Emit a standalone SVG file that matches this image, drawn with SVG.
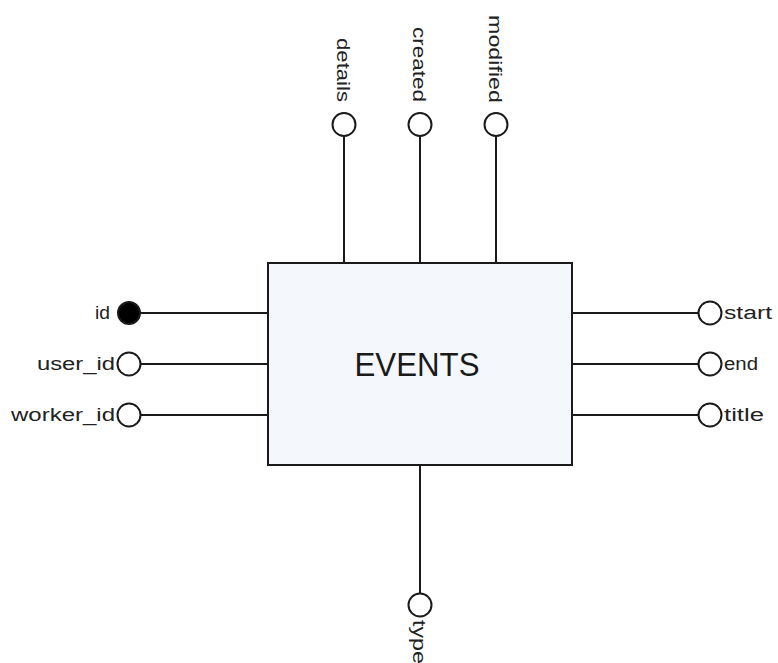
<svg xmlns="http://www.w3.org/2000/svg" width="778" height="663" viewBox="0 0 778 663">
<style>
  .ln { stroke:#1a1a1a; stroke-width:2; fill:none; }
  .oc { stroke:#1a1a1a; stroke-width:2; fill:#ffffff; }
  .fc { stroke:#1a1a1a; stroke-width:2; fill:#000000; }
  .lb { font-family:"Liberation Sans", Arial, sans-serif; font-size:18px; fill:#222222; }
  .tt { font-family:"Liberation Sans", Arial, sans-serif; font-size:34px; fill:#1a1a1a; }
</style>
<rect width="778" height="663" fill="#ffffff"/>
<g id="connectors">
  <line class="ln" x1="344" y1="136" x2="344" y2="263"/>
  <line class="ln" x1="420" y1="136" x2="420" y2="263"/>
  <line class="ln" x1="496" y1="136" x2="496" y2="263"/>
  <line class="ln" x1="141" y1="313" x2="268" y2="313"/>
  <line class="ln" x1="141" y1="364" x2="268" y2="364"/>
  <line class="ln" x1="141" y1="415" x2="268" y2="415"/>
  <line class="ln" x1="572" y1="313" x2="698" y2="313"/>
  <line class="ln" x1="572" y1="364" x2="698" y2="364"/>
  <line class="ln" x1="572" y1="415" x2="698" y2="415"/>
  <line class="ln" x1="420" y1="465" x2="420" y2="593"/>
</g>
<g id="events">
  <rect x="268" y="263" width="304" height="202" fill="#f4f8fd" stroke="#1a1a1a" stroke-width="2"/>
  <text class="tt" x="417" y="376" text-anchor="middle" textLength="125" lengthAdjust="spacingAndGlyphs">EVENTS</text>
</g>
<g id="attr-details">
  <circle class="oc" cx="344" cy="124.5" r="11.5"/>
  <text class="lb" transform="translate(337,102) rotate(90)" text-anchor="end" textLength="64" lengthAdjust="spacingAndGlyphs">details</text>
</g>
<g id="attr-created">
  <circle class="oc" cx="420" cy="124.5" r="11.5"/>
  <text class="lb" transform="translate(413,102) rotate(90)" text-anchor="end" textLength="75" lengthAdjust="spacingAndGlyphs">created</text>
</g>
<g id="attr-modified">
  <circle class="oc" cx="496" cy="124.5" r="11.5"/>
  <text class="lb" transform="translate(489,103) rotate(90)" text-anchor="end" textLength="88" lengthAdjust="spacingAndGlyphs">modified</text>
</g>
<g id="attr-id">
  <circle class="fc" cx="129" cy="313" r="11"/>
  <text class="lb" x="110" y="319" text-anchor="end" textLength="15" lengthAdjust="spacingAndGlyphs">id</text>
</g>
<g id="attr-user_id">
  <circle class="oc" cx="129" cy="364" r="11.5"/>
  <text class="lb" x="115" y="370" text-anchor="end" textLength="78" lengthAdjust="spacingAndGlyphs">user_id</text>
</g>
<g id="attr-worker_id">
  <circle class="oc" cx="129" cy="415" r="11.5"/>
  <text class="lb" x="115" y="421" text-anchor="end" textLength="104" lengthAdjust="spacingAndGlyphs">worker_id</text>
</g>
<g id="attr-start">
  <circle class="oc" cx="710" cy="313" r="11.5"/>
  <text class="lb" x="724" y="319" textLength="48" lengthAdjust="spacingAndGlyphs">start</text>
</g>
<g id="attr-end">
  <circle class="oc" cx="710" cy="364" r="11.5"/>
  <text class="lb" x="724" y="370" textLength="34" lengthAdjust="spacingAndGlyphs">end</text>
</g>
<g id="attr-title">
  <circle class="oc" cx="710" cy="415" r="11.5"/>
  <text class="lb" x="724" y="421" textLength="40" lengthAdjust="spacingAndGlyphs">title</text>
</g>
<g id="attr-type">
  <circle class="oc" cx="420" cy="605" r="11.5"/>
  <text class="lb" transform="translate(413,620) rotate(90)" textLength="44" lengthAdjust="spacingAndGlyphs">type</text>
</g>
</svg>
